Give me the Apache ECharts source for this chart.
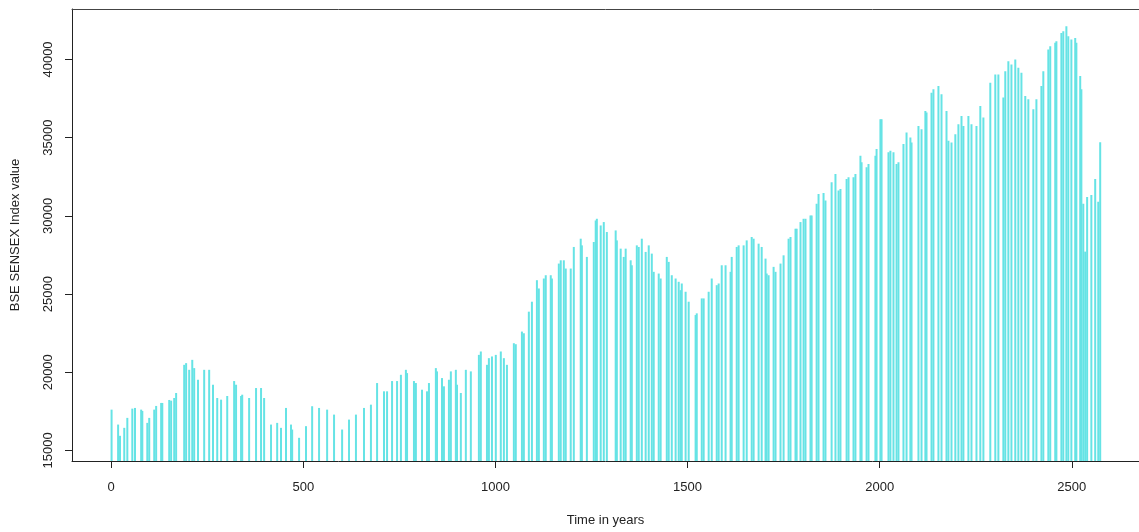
<!DOCTYPE html>
<html>
<head>
<meta charset="utf-8">
<title>BSE SENSEX</title>
<script src="https://cdn.jsdelivr.net/npm/echarts@6/dist/echarts.min.js"></script>
<style>
  html, body { margin: 0; padding: 0; background: #ffffff; }
  #chart { width: 1139px; height: 532px; }
</style>
</head>
<body>
<div id="chart"></div>
<script>
// Trading-day index of each drawn spike
const dayIndex = [
  1, 18, 23, 34, 42, 55, 62, 78, 81, 94, 99, 112, 117, 130, 133, 151, 156, 164, 169,
  190, 195, 203, 211, 216, 226, 242, 255, 265, 276, 286, 302, 320, 325, 338, 341,
  359, 377, 390, 398, 416, 432, 442, 455, 468, 471, 489, 507, 523, 541, 562, 580,
  601, 619, 637, 658, 676, 692, 710, 718,
  731, 744, 754, 767, 770, 788, 793, 809, 822, 827, 845, 848, 861, 866, 879, 884,
  897, 900, 910, 923, 936, 957, 962, 978, 983, 991, 1001, 1014, 1022, 1030, 1048,
  1053, 1069, 1074, 1087, 1095, 1108,
  1113, 1126, 1131, 1144, 1147, 1165, 1170, 1178, 1183, 1196, 1204, 1222, 1225,
  1238, 1256, 1261, 1264, 1274, 1282, 1290, 1313, 1316, 1326, 1334, 1339, 1352,
  1355, 1368, 1373, 1381, 1391, 1399, 1407, 1412, 1425, 1430, 1446, 1451, 1459,
  1469, 1477, 1482,
  1485, 1495, 1503, 1521, 1524, 1537, 1542, 1555, 1563, 1576, 1581, 1589, 1599,
  1612, 1615, 1628, 1633, 1646, 1654, 1667, 1672, 1685, 1693, 1703, 1706, 1711,
  1724, 1729, 1742, 1750, 1763, 1768, 1781, 1784, 1794, 1802, 1807, 1820, 1823,
  1836, 1841, 1854, 1859,
  1875, 1885, 1893, 1898, 1914, 1919, 1932, 1937, 1950, 1953, 1966, 1971, 1989,
  1992, 2002, 2005, 2023, 2028, 2036, 2044, 2049, 2062, 2070, 2080, 2083, 2101,
  2109, 2119, 2122, 2135, 2140, 2153, 2161, 2174, 2179, 2187, 2197, 2205, 2213,
  2218, 2231, 2239,
  2252, 2262, 2270, 2288, 2301, 2309, 2322, 2327, 2335, 2343, 2353, 2361, 2369,
  2379, 2387, 2400, 2408, 2421, 2426, 2439, 2444, 2457, 2460, 2473, 2478, 2486,
  2491, 2499, 2509, 2512, 2522, 2525, 2530, 2535, 2540, 2551, 2561, 2569, 2574
];

// Index close on those days
const closeValue = [
  17610, 16655, 15936, 16445, 17082, 17674, 17718, 17610, 17527, 16763, 17082, 17610, 17846,
  18037, 18037, 18228, 18183, 18355, 18673,
  20475, 20583, 20156, 20793, 20265, 19520, 20156, 20156, 19202, 18355, 18247, 18482, 19437,
  19202, 18482, 18565, 18355, 18991, 18991, 18355, 16655, 16763, 16445, 17718, 16655, 16337,
  15808, 16553, 17827, 17718, 17610, 17292, 16337, 16973, 17292, 17718, 17928, 19310, 18781,
  18781,
  19437, 19437, 19838, 20156, 19946, 19437, 19310, 18883, 18781, 19310, 20265, 20055, 19628,
  19100, 19520, 20055, 20156, 19202, 18673, 20156, 20055, 21111, 21328, 20475, 20901, 21010,
  21111, 21328, 20901, 20475, 21856, 21793, 22601, 22493, 23874, 24511, 25886,
  25357, 25994, 26204, 26204, 25994, 26949, 27159, 27159, 26631, 26631, 28012, 28540, 28114,
  27375, 28330, 29705, 29814, 29387, 29604, 28967, 29069, 28432, 27904, 27375, 27904, 27159,
  26841, 28114, 28012, 28540, 27694, 28114, 27586, 26421, 26312, 25994, 27375, 27057, 26204,
  25994, 25784, 25249,
  25676, 25147, 24511, 23658, 23766, 24721, 24721, 25147, 25994, 25568, 25676, 26841, 26841,
  26421, 27375, 28012, 28114, 28114, 28432, 28649, 28540, 28222, 28012, 27267, 26312, 26204,
  26739, 26421, 26949, 27477, 28540, 28649, 29177, 29177, 29604, 29814, 29814, 30024, 30024,
  30769, 31405, 31469, 30979,
  32150, 32678, 31615, 31723, 32360, 32468, 32468, 32678, 33843, 33423, 33105, 33315, 33843,
  34270, 36180, 36180, 34060, 34162, 34060, 33315, 33423, 34588, 35333, 35015, 34696, 35753,
  35543, 36708, 36606, 37879, 38089, 38300, 37771, 36708, 34798, 34696, 35225, 35861, 36390,
  35753, 36390, 35861,
  35753, 37026, 36288, 38516, 39044, 39044, 37561, 39254, 39891, 39681, 40000, 39471, 39153,
  37663, 37453, 36816, 37453, 38300, 39254, 40636, 40846, 41062, 41164, 41699, 41801, 42119,
  41483, 41272, 41381, 41062, 38936, 38089, 30769, 27713, 31214, 31341, 32360, 30896, 34715
];

const xTicks = [0, 500, 1000, 1500, 2000, 2500];
const yTicks = [15000, 20000, 25000, 30000, 35000, 40000];

const seriesData = dayIndex.map((d, i) => [d, closeValue[i]]);

const font = "'Liberation Sans', Arial, sans-serif";
const ink = '#222222';
const plain = (v) => String(v);

const chart = echarts.init(document.getElementById('chart'), null, { renderer: 'canvas' });
chart.setOption({
  animation: false,
  backgroundColor: '#ffffff',
  grid: { left: 72, top: 9, width: 1069, height: 454, show: false },
  xAxis: [{
    type: 'value',
    position: 'bottom',
    min: -102, max: 2675,
    name: 'Time in years',
    nameLocation: 'middle',
    nameGap: 53,
    nameTextStyle: { fontFamily: font, fontSize: 13, color: ink },
    axisLine: { show: true, onZero: false, lineStyle: { color: ink, width: 1 } },
    splitLine: { show: false },
    axisTick: { show: true, inside: false, length: 7, customValues: xTicks,
      lineStyle: { color: ink, width: 1 } },
    axisLabel: { customValues: xTicks, formatter: plain, margin: 20,
      fontFamily: font, fontSize: 13, color: ink }
  }, {
    // top edge of the plot frame
    type: 'value',
    position: 'top',
    min: -102, max: 2675,
    axisLine: { show: true, onZero: false, lineStyle: { color: '#444444', width: 1 } },
    axisTick: { show: false },
    axisLabel: { show: false },
    splitLine: { show: false }
  }],
  yAxis: {
    type: 'value',
    position: 'left',
    min: 14325, max: 43228,
    name: 'BSE SENSEX Index value',
    nameLocation: 'middle',
    nameGap: 50,
    nameTextStyle: { fontFamily: font, fontSize: 13, color: ink },
    axisLine: { show: true, onZero: false, lineStyle: { color: ink, width: 1 } },
    splitLine: { show: false },
    axisTick: { show: true, inside: false, length: 7, customValues: yTicks,
      lineStyle: { color: ink, width: 1 } },
    axisLabel: { customValues: yTicks, formatter: plain, rotate: 90, margin: 17,
      fontFamily: font, fontSize: 13, color: ink }
  },
  series: [{
    type: 'bar',
    xAxisIndex: 0,
    data: seriesData,
    barWidth: 2,
    itemStyle: { color: '#66e3e5' },
    clip: true,
    silent: true
  }]
});
</script>
</body>
</html>
